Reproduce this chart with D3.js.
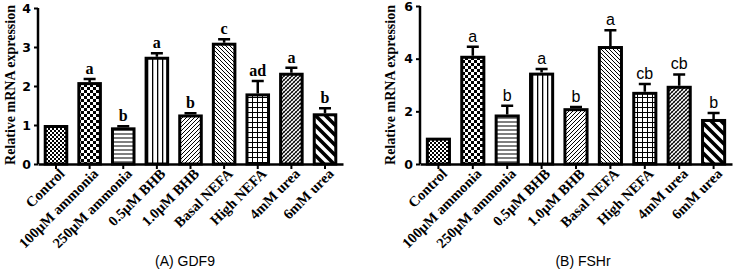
<!DOCTYPE html>
<html>
<head>
<meta charset="utf-8">
<script src="https://cdn.jsdelivr.net/npm/d3@7"></script>
<style>
  body { margin: 0; background: #fff; }
  svg { display: block; }
</style>
</head>
<body>
<div id="chart"></div>
<script>
var categories = ["Control", "100\u03bcM ammonia", "250\u03bcM ammonia", "0.5\u03bcM BHB", "1.0\u03bcM BHB",
                  "Basal NEFA", "High NEFA", "4mM urea", "6mM urea"];
var patternIds = ["pFineCheck", "pCheck", "pHLines", "pVLines", "pDiagUp", "pDiagDown", "pGrid", "pCross", "pThick"];

var gdf9Values = [1.0, 2.10, 0.94, 2.75, 1.27, 3.11, 1.81, 2.34, 1.30];
var gdf9Errors = [0.0, 0.08, 0.03, 0.09, 0.03, 0.09, 0.32, 0.13, 0.13];
var gdf9Letters = ["", "a", "b", "a", "b", "c", "ad", "a", "b"];
var gdf9Ticks = [0, 1, 2, 3, 4];

var fshrValues = [1.0, 4.11, 1.88, 3.47, 2.12, 4.48, 2.74, 2.97, 1.71];
var fshrErrors = [0.0, 0.34, 0.33, 0.14, 0.04, 0.60, 0.30, 0.43, 0.23];
var fshrLetters = ["", "a", "b", "a", "b", "a", "cb", "cb", "b"];
var fshrTicks = [0, 2, 4, 6];

var w = 739;
var h = 277;

var svg = d3.select("#chart")
            .append("svg")
            .attr("width", w)
            .attr("height", h);

// fill patterns for the bars
var defs = svg.append("defs");
function pattern(id, size) {
    return defs.append("pattern")
               .attr("id", id)
               .attr("patternUnits", "userSpaceOnUse")
               .attr("width", size)
               .attr("height", size);
}
var p = pattern("pFineCheck", 4);
p.append("rect").attr("width", 4).attr("height", 4).attr("fill", "#fff");
p.append("rect").attr("width", 2).attr("height", 2).attr("fill", "#000");
p.append("rect").attr("x", 2).attr("y", 2).attr("width", 2).attr("height", 2).attr("fill", "#000");

p = pattern("pCheck", 6);
p.append("rect").attr("width", 6).attr("height", 6).attr("fill", "#fff");
p.append("rect").attr("width", 3).attr("height", 3).attr("fill", "#000");
p.append("rect").attr("x", 3).attr("y", 3).attr("width", 3).attr("height", 3).attr("fill", "#000");

p = pattern("pHLines", 4);
p.append("rect").attr("width", 4).attr("height", 4).attr("fill", "#fff");
p.append("rect").attr("y", 1.5).attr("width", 4).attr("height", 1).attr("fill", "#000");

p = pattern("pVLines", 5);
p.append("rect").attr("width", 5).attr("height", 5).attr("fill", "#fff");
p.append("rect").attr("x", 2).attr("width", 1.3).attr("height", 5).attr("fill", "#000");

p = pattern("pDiagUp", 4);
p.append("rect").attr("width", 4).attr("height", 4).attr("fill", "#fff");
p.append("path").attr("d", "M-1,1 L1,-1 M0,4 L4,0 M3,5 L5,3").attr("stroke", "#000").attr("stroke-width", 1);

p = pattern("pDiagDown", 4);
p.append("rect").attr("width", 4).attr("height", 4).attr("fill", "#fff");
p.append("path").attr("d", "M-1,3 L1,5 M0,0 L4,4 M3,-1 L5,1").attr("stroke", "#000").attr("stroke-width", 1);

p = pattern("pGrid", 5);
p.append("rect").attr("width", 5).attr("height", 5).attr("fill", "#fff");
p.append("path").attr("d", "M2.5,0 V5 M0,2.5 H5").attr("stroke", "#000").attr("stroke-width", 1);

p = pattern("pCross", 4);
p.append("rect").attr("width", 4).attr("height", 4).attr("fill", "#fff");
p.append("path").attr("d", "M-1,1 L1,-1 M0,4 L4,0 M3,5 L5,3").attr("stroke", "#000").attr("stroke-width", 1.2);
p.append("path").attr("d", "M0,0 L4,4").attr("stroke", "#000").attr("stroke-width", 0.5);

p = pattern("pThick", 10);
p.append("rect").attr("width", 10).attr("height", 10).attr("fill", "#fff");
p.append("path").attr("d", "M-2.5,7.5 L2.5,12.5 M0,0 L10,10 M7.5,-2.5 L12.5,2.5").attr("stroke", "#000").attr("stroke-width", 3.6);

function drawPanel(o) {
    var x = d3.scaleBand()
              .domain(categories)
              .range([o.x0, o.x1])
              .paddingInner(0.27)
              .paddingOuter(0.17);
    var y = d3.scaleLinear()
              .domain([0, o.max])
              .range([164, o.top]);

    var g = svg.append("g");

    // error bars (drawn first so the bar border covers the lower part)
    g.selectAll("path.err")
     .data(o.values)
     .enter()
     .append("path")
     .attr("fill", "none")
     .attr("stroke", "#000")
     .attr("stroke-width", 2.5)
     .attr("d", function(d, i) {
         if (o.errors[i] <= 0) return null;
         var cx = x(categories[i]) + x.bandwidth() / 2;
         var ty = y(d + o.errors[i]);
         return "M" + cx + "," + y(d) + "V" + ty + "M" + (cx - 6) + "," + ty + "H" + (cx + 6);
     });

    g.selectAll("rect.bar")
     .data(o.values)
     .enter()
     .append("rect")
     .attr("x", function(d, i) { return x(categories[i]) + 1.5; })
     .attr("width", x.bandwidth() - 3)
     .attr("y", function(d) { return y(d) + 1.5; })
     .attr("height", function(d) { return y(0) - y(d) - 1.5; })
     .attr("fill", function(d, i) { return "url(#" + patternIds[i] + ")"; })
     .attr("stroke", "#000")
     .attr("stroke-width", 3);

    // significance letters
    g.selectAll("text.sig")
     .data(o.values)
     .enter()
     .append("text")
     .attr("x", function(d, i) { return x(categories[i]) + x.bandwidth() / 2; })
     .attr("y", function(d, i) { return y(d + o.errors[i]) - 5; })
     .attr("text-anchor", "middle")
     .style("font-family", o.letterFont)
     .style("font-weight", o.letterWeight)
     .style("font-size", "16px")
     .text(function(d, i) { return o.letters[i]; });

    var yAxis = g.append("g")
                 .attr("transform", "translate(" + o.x0 + ",0)")
                 .call(d3.axisLeft(y).tickValues(o.ticks).tickSize(4).tickPadding(3).tickFormat(d3.format("d")));
    var xAxis = g.append("g")
                 .attr("transform", "translate(0,164)")
                 .call(d3.axisBottom(x).tickSize(5).tickSizeOuter(0).tickFormat(""));
    [yAxis, xAxis].forEach(function(a) {
        a.select(".domain").attr("stroke-width", 2.5);
        a.selectAll(".tick line").attr("stroke-width", 2);
    });
    yAxis.select(".domain").attr("d", "M0,164V" + o.top);
    yAxis.selectAll("text")
         .style("font-family", "'DejaVu Sans', sans-serif")
         .style("font-weight", "bold")
         .style("font-size", "12.5px");

    g.selectAll("text.cat")
     .data(categories)
     .enter()
     .append("text")
     .attr("transform", function(d) {
         return "translate(" + (x(d) + x.bandwidth() / 2 + 6) + ",171) rotate(-45)";
     })
     .attr("text-anchor", "end")
     .attr("dy", "0.35em")
     .style("font-family", "'Liberation Serif', serif")
     .style("font-weight", "bold")
     .style("font-size", "14.5px")
     .text(function(d) { return d; });

    g.append("text")
     .attr("transform", "translate(" + o.titleX + ",85) rotate(-90)")
     .attr("text-anchor", "middle")
     .style("font-family", "'Liberation Serif', serif")
     .style("font-weight", "bold")
     .style("font-size", "14px")
     .text("Relative mRNA expression");

    g.append("text")
     .attr("x", o.captionX)
     .attr("y", 266)
     .attr("text-anchor", "middle")
     .style("font-family", "'Liberation Sans', Arial, sans-serif")
     .style("font-size", "14px")
     .text(o.caption);
}

drawPanel({ x0: 38, x1: 343, top: 8, max: 4, ticks: gdf9Ticks,
            values: gdf9Values, errors: gdf9Errors, letters: gdf9Letters,
            letterFont: "'Liberation Serif', serif", letterWeight: "bold",
            titleX: 15, caption: "(A) GDF9", captionX: 185 });

drawPanel({ x0: 420, x1: 732, top: 6, max: 6, ticks: fshrTicks,
            values: fshrValues, errors: fshrErrors, letters: fshrLetters,
            letterFont: "'Liberation Sans', Arial, sans-serif", letterWeight: "normal",
            titleX: 395, caption: "(B) FSHr", captionX: 583 });
</script>
</body>
</html>
